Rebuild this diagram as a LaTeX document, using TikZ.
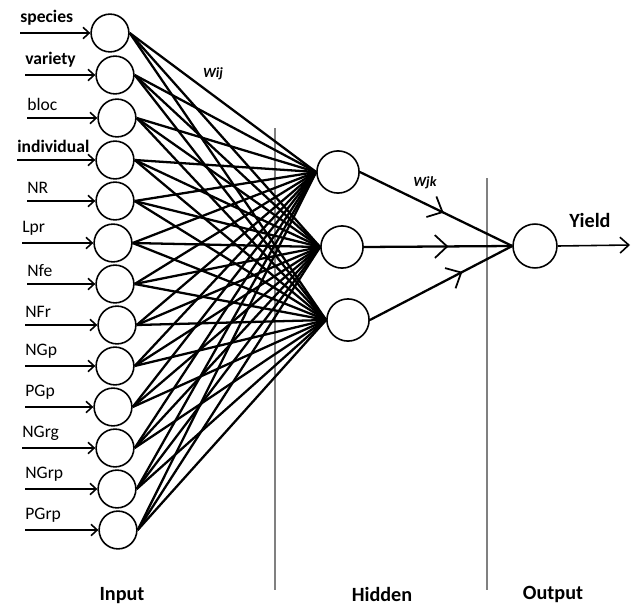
\documentclass[tikz,border=0pt]{standalone}
\usepackage{fontspec}
\setmainfont{Carlito}
\usetikzlibrary{arrows.meta,decorations.markings}
\begin{document}
\begin{tikzpicture}[x=0.02cm,y=-0.02cm,
  neuron/.style={circle,draw,line width=0.9pt,inner sep=0pt},
  inlab/.style={anchor=south west,inner sep=0pt,font=\fontsize{10}{12}\selectfont},
  inarrow/.style={line width=0.9pt,-{Straight Barb[length=3.5pt,width=6.5pt]}},
  conn/.style={line width=1.3pt},
  sep/.style={draw=gray,line width=0.7pt},
  midarrow/.style={decoration={markings,mark=at position #1 with {\arrow{Straight Barb[length=7pt,width=13pt,line width=1pt]}}},postaction={decorate}},
  title/.style={font=\bfseries\fontsize{11.5}{13}\selectfont}
]
\useasboundingbox (0,0) rectangle (636,605);
% separators
\draw[sep] (275,128) coordinate (s1a) -- (275,590) coordinate (s1b);
\draw[sep] (487,178) coordinate (s2a) -- (487,590) coordinate (s2b);
% input neurons
\foreach \n/\x/\y/\lx/\txt/\b in {
  1/110/33/20/species/1, 2/115/75/25/variety/1, 3/117/118/27/bloc/0,
  4/115/160/17/individual/1, 5/115/201/27/NR/0, 6/113/243/22/Lpr/0,
  7/115/284/27/Nfe/0, 8/117/325/25/NFr/0, 9/115/366/25/NGp/0,
  10/113/407/25/PGp/0, 11/115/448/22/NGrg/0, 12/117/489/25/NGrp/0,
  13/118/530/25/PGrp/0} {
  \node[neuron,minimum size=21.5pt] (i\n) at (\x,\y) {};
  \coordinate (a\n) at (\lx,\y);
  \ifnum\b=1
    \node[inlab,font=\bfseries\fontsize{10}{12}\selectfont] (l\n) at (\lx,\y-7) {\txt};
  \else
    \node[inlab] (l\n) at (\lx,\y-7) {\txt};
  \fi
  \draw[inarrow] (a\n) -- (i\n.west);
}
% hidden neurons
\node[neuron,minimum size=24pt] (h1) at (338,172) {};
\node[neuron,minimum size=24pt] (h2) at (342,247) {};
\node[neuron,minimum size=24pt] (h3) at (348,320) {};
% output neuron
\node[neuron,minimum size=25pt] (o) at (535,246) {};
% connections input -> hidden
\foreach \i in {1,...,13} {
  \foreach \h in {1,2,3} {
    \draw[conn] (i\i.east) -- (h\h.west);
  }
}
% hidden -> output
\draw[conn,midarrow=0.55] (h1.east) -- (o.west);
\draw[conn,midarrow=0.57] (h2.east) -- (o.west);
\draw[conn,midarrow=0.65] (h3.east) -- (o.west);
% output arrow
\coordinate (yend) at (630,245);
\draw[line width=0.9pt,-{Straight Barb[length=5pt,width=9pt]}] (o.east) -- (yend);
% labels
\node[font=\bfseries\itshape\fontsize{8}{9}\selectfont] (wij) at (213,74) {Wij};
\node[font=\bfseries\itshape\fontsize{8}{9}\selectfont] (wjk) at (425,183) {Wjk};
\node[title] (yield) at (590,220) {Yield};
\node[title] (tin) at (122,596) {Input};
\node[title] (thid) at (382,594) {Hidden};
\node[title] (tout) at (553,594) {Output};
\end{tikzpicture}
\end{document}
